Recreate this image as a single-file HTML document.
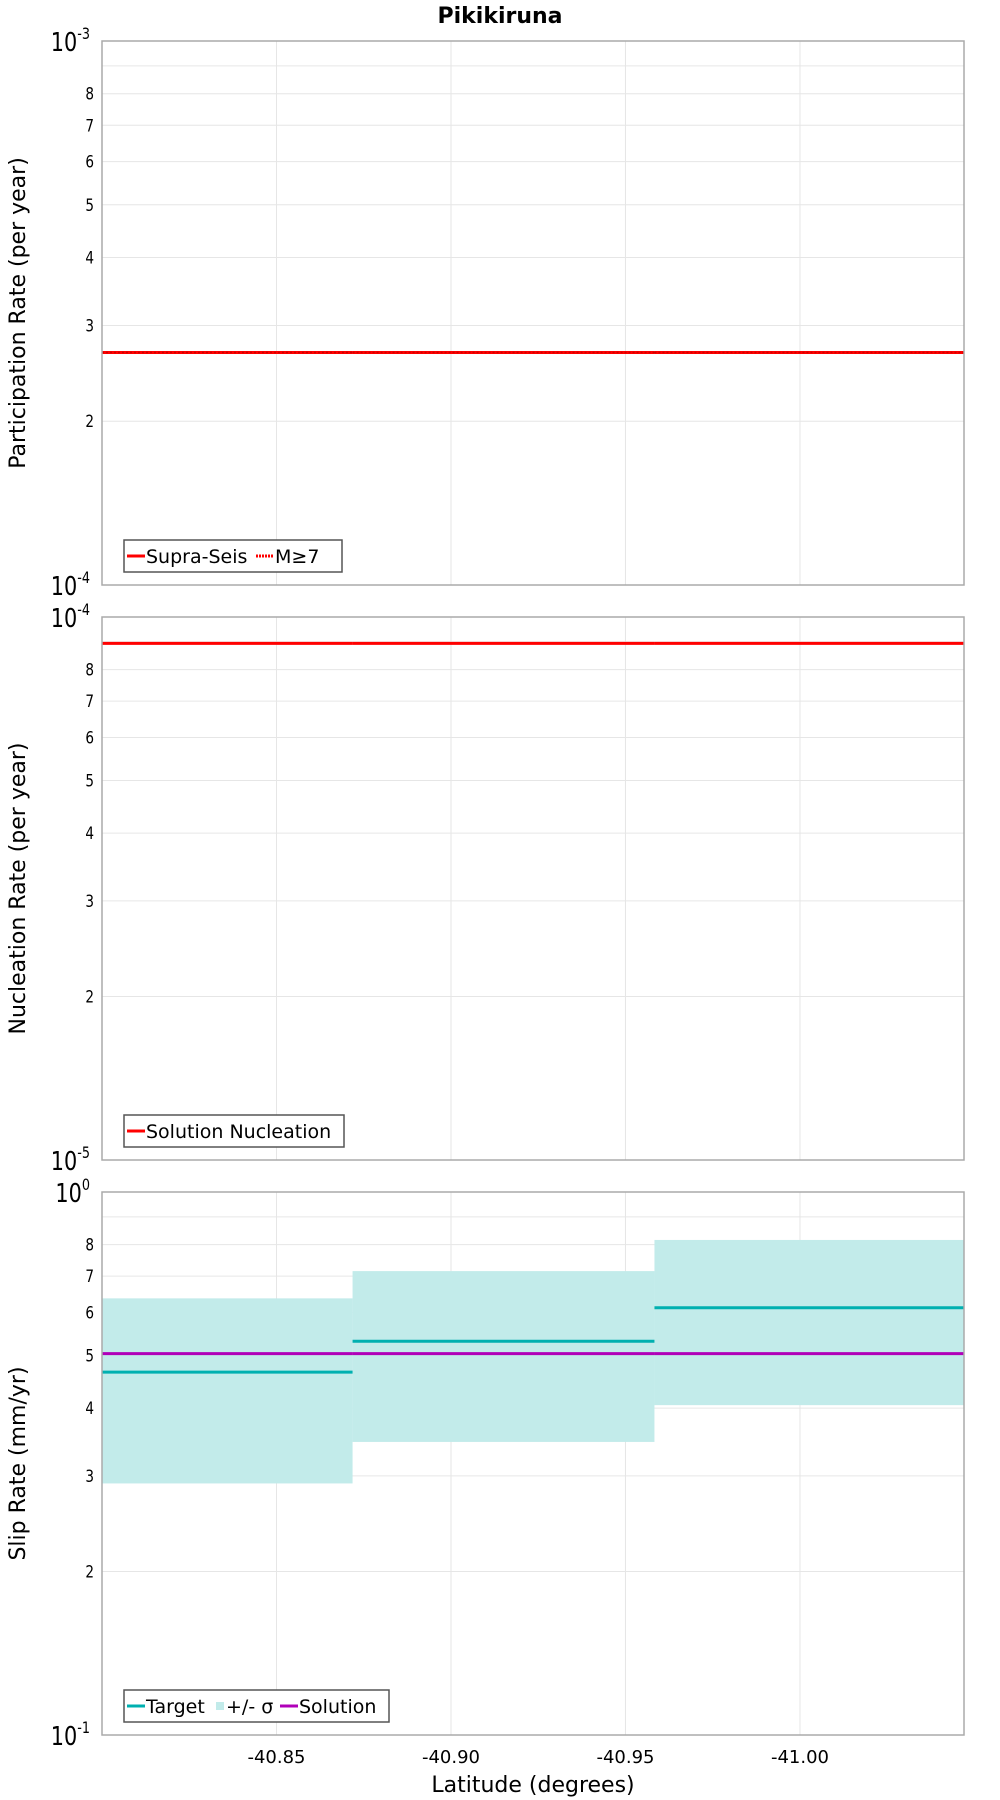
<!DOCTYPE html>
<html><head><meta charset="utf-8"><style>
body{margin:0;background:#fff}
svg{display:block;font-family:"DejaVu Sans","Liberation Sans",sans-serif}
</style></head><body>
<svg id="chart" width="1000" height="1800" xmlns="http://www.w3.org/2000/svg">
<text x="500" y="23" text-anchor="middle" font-size="22" font-weight="bold">Pikikiruna</text>
<g id="g"></g>
</svg>
<script>
const xTicks = [-40.85, -40.90, -40.95, -41.00];
const xTickLabels = ["-40.85", "-40.90", "-40.95", "-41.00"];
const segEdges = [-40.80, -40.8718, -40.9583, -41.047];
const participationValues = [2.676e-4, 2.676e-4, 2.676e-4];
const m7Values = [2.676e-4, 2.676e-4, 2.676e-4];
const nucleationValues = [8.94e-5, 8.94e-5, 8.94e-5];
const targetValues = [0.466, 0.531, 0.612];
const sigmaLow = [0.2906, 0.3465, 0.405];
const sigmaHigh = [0.637, 0.715, 0.816];
const solutionValues = [0.504, 0.504, 0.504];
const minorLabels = ["2","3","4","5","6","7","8"];

const NS = "http://www.w3.org/2000/svg";
const g = document.getElementById('g');
const L = 102, R = 964, X0 = -40.80, X1 = -41.047;
function xs(v){ return L + (v - X0) / (X1 - X0) * (R - L); }
function mk(tag, attrs, parent){ const e = document.createElementNS(NS, tag); for (const k in attrs) e.setAttribute(k, attrs[k]); (parent||g).appendChild(e); return e; }

function panel(top, bottom, dec, yTitle, name){
  const ys = v => bottom - Math.log10(v / Math.pow(10, dec)) * (bottom - top);
  const pg = mk('g', {});
  
  
  for (let m = 2; m <= 9; m++){
    const y = ys(m * Math.pow(10, dec));
    const l = mk('line', {x1:L, x2:R, y1:y, y2:y, stroke:'#e6e6e6', 'stroke-width':1}, pg);
    
    
    if (m <= 8){
      const t = mk('text', {x:L-8, y:y+6, 'text-anchor':'end', 'font-size':17, transform:`translate(${L-8} 0) scale(0.8 1) translate(${-(L-8)} 0)`}, pg);
      t.textContent = minorLabels[m-2];
      
      
    }
  }
  xTicks.forEach(v => {
    const l = mk('line', {x1:xs(v), x2:xs(v), y1:top, y2:bottom, stroke:'#e6e6e6', 'stroke-width':1}, pg);
    
    
  });
  [[bottom, dec],[top, dec+1]].forEach(([y, e]) => {
    const t = mk('text', {x:L-12, y:y+10, 'text-anchor':'end', 'font-size':26, transform:`translate(${L-12} 0) scale(0.8 1) translate(${-(L-12)} 0)`}, pg);
    t.innerHTML = '10<tspan dy="-12" font-size="16">' + e + '</tspan>';
    
    
  });
  const yt = mk('text', {x:0, y:0, 'text-anchor':'middle', 'font-size':22, transform:`translate(25 ${(top+bottom)/2}) rotate(-90)`}, pg);
  yt.textContent = yTitle;
  
  
  return {ys, pg, top, bottom};
}
function frame(p){
  const r = mk('rect', {x:L, y:p.top, width:R-L, height:p.bottom-p.top, fill:'none', stroke:'#aaa', 'stroke-width':1.5}, p.pg);
  
  
}
function segLines(p, vals, color, w, dash, name){
  vals.forEach((v, i) => {
    const a = {x1:xs(segEdges[i]), x2:xs(segEdges[i+1]), y1:p.ys(v), y2:p.ys(v), stroke:color, 'stroke-width':w};
    if (dash) a['stroke-dasharray'] = dash;
    const l = mk('line', a, p.pg);
    
    
  });
}
function legend(p, x, y, w, items){
  const lg = mk('g', {}, p.pg);
  
  
  const r = mk('rect', {x:x, y:y, width:w, height:32, fill:'#fff', stroke:'#555', 'stroke-width':1.5}, lg);
  
  
  let cx = x + 3;
  items.forEach(it => {
    if (it.type === 'sq'){
      const s = mk('rect', {x:cx+2, y:y+12, width:8, height:8, fill:it.color}, lg);
      
      
      cx += 12;
    } else {
      const a = {x1:cx, x2:cx+18, y1:y+16, y2:y+16, stroke:it.color, 'stroke-width':3};
      if (it.dash) a['stroke-dasharray'] = it.dash;
      const s = mk('line', a, lg);
      
      
      cx += 19;
    }
    const t = mk('text', {x:cx, y:y+23, 'font-size':19}, lg);
    t.textContent = it.label;
    
    
    cx += it.w;
  });
}

// Panel 1
const p1 = panel(41, 585, -4, 'Participation Rate (per year)', 'participation-panel');
segLines(p1, participationValues, '#ff0000', 3, null, 'supra-seis-line');
segLines(p1, m7Values, '#cc0000', 1.5, '2,2', 'm7-line');
frame(p1);
legend(p1, 124, 540, 218, [{color:'#ff0000', label:'Supra-Seis', w:110},{color:'#ff0000', dash:'2,1', label:'M≥7', w:50}]);

// Panel 2
const p2 = panel(617, 1160, -5, 'Nucleation Rate (per year)', 'nucleation-panel');
segLines(p2, nucleationValues, '#ff0000', 3, null, 'nucleation-line');
frame(p2);
legend(p2, 124, 1115, 220, [{color:'#ff0000', label:'Solution Nucleation', w:200}]);

// Panel 3
const p3 = panel(1192, 1735, -1, 'Slip Rate (mm/yr)', 'slip-rate-panel');
sigmaLow.forEach((v, i) => {
  const r = mk('rect', {x:xs(segEdges[i]), y:p3.ys(sigmaHigh[i]), width:xs(segEdges[i+1])-xs(segEdges[i]), height:p3.ys(v)-p3.ys(sigmaHigh[i]), fill:'#c2ebea'}, p3.pg);
  
  
});
segLines(p3, targetValues, '#00b0b0', 3, null, 'target-line');
segLines(p3, solutionValues, '#b000b8', 3, null, 'solution-line');
frame(p3);
legend(p3, 124, 1690, 265, [{color:'#00b0b0', label:'Target', w:68},{type:'sq', color:'#c2ebea', label:'+/- σ', w:54},{color:'#b000b8', label:'Solution', w:90}]);

xTicks.forEach((v, i) => {
  const t = mk('text', {x:xs(v), y:1763, 'text-anchor':'middle', 'font-size':18});
  t.textContent = xTickLabels[i];
  
  
});
const xt = mk('text', {x:533, y:1792, 'text-anchor':'middle', 'font-size':22});
xt.textContent = 'Latitude (degrees)';


</script>
</body></html>
